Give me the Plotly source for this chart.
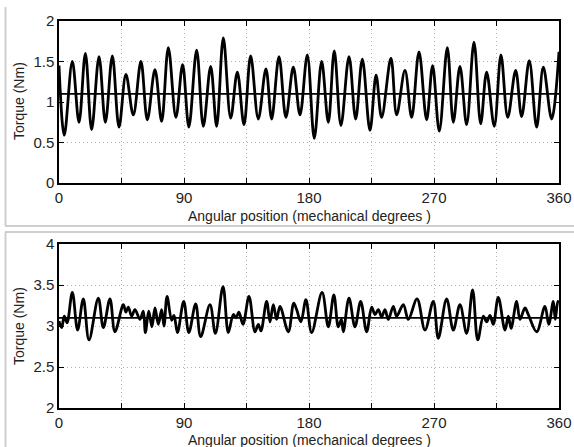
import plotly.graph_objects as go

# ---- Data ----
# Top panel: angular positions (deg) of peaks/troughs and torque values (Nm)
top_angle = [0.0, 3.8, 9.6, 14.4, 19.0, 23.5, 28.8, 33.4, 38.4, 43.2, 48.2, 53.5, 59.0, 63.6,
             69.1, 73.9, 78.7, 84.2, 89.0, 93.5, 99.1, 103.9, 109.2, 113.5, 118.3, 123.6,
             128.4, 133.2, 138.0, 143.5, 149.0, 153.1, 158.4, 163.4, 168.7, 173.5, 178.8,
             183.8, 189.1, 193.9, 198.2, 203.0, 208.8, 213.6, 218.4, 223.9, 228.3, 232.3,
             239.0, 243.1, 249.1, 253.9, 259.2, 264.7, 269.0, 273.8, 279.6, 283.9, 288.7,
             293.5, 298.8, 303.6, 307.9, 313.4, 318.2, 323.1, 328.8, 333.1, 338.6, 343.9,
             348.7, 354.7, 360.0]
top_torque = [1.45, 0.59, 1.50, 0.75, 1.60, 0.66, 1.56, 0.75, 1.57, 0.69, 1.34, 0.84, 1.50, 0.78,
              1.40, 0.76, 1.67, 0.81, 1.46, 0.69, 1.64, 0.70, 1.44, 0.70, 1.79, 0.80,
              1.37, 0.72, 1.57, 0.79, 1.41, 0.79, 1.56, 0.81, 1.43, 0.84, 1.58,
              0.55, 1.50, 0.75, 1.63, 0.71, 1.56, 0.79, 1.53, 0.65, 1.33, 0.81,
              1.54, 0.84, 1.39, 0.81, 1.62, 0.78, 1.45, 0.64, 1.67, 0.75, 1.44,
              0.72, 1.74, 0.73, 1.37, 0.70, 1.58, 0.81, 1.39, 0.82, 1.51, 0.69,
              1.43, 0.79, 1.62]
top_mean = 1.1

# Bottom panel
bot_angle = [0.0, 1.9, 3.8, 5.8, 9.6, 13.4, 17.5, 21.6, 28.3, 31.9, 36.7, 40.3, 46.3, 48.2,
             49.9, 52.3, 54.7, 58.3, 60.7, 62.2, 64.6, 66.9, 69.1, 71.5, 73.9, 75.6, 77.8,
             81.1, 82.8, 85.3, 89.8, 93.5, 98.4, 102.0, 108.7, 112.6, 118.1, 121.9, 125.5,
             127.5, 129.5, 132.5, 136.8, 141.1, 143.5, 145.4, 149.5, 151.9, 154.3, 156.7,
             159.1, 165.1, 169.0, 171.1, 174.2, 177.8, 181.9, 189.4, 193.9, 197.9, 201.1,
             203.3, 204.7, 208.8, 213.1, 217.2, 221.5, 225.1, 227.5, 229.9, 232.3, 234.7,
             237.1, 240.7, 243.1, 247.9, 251.5, 257.8, 263.5, 269.5, 273.1, 279.1, 283.9,
             288.7, 293.5, 297.8, 301.5, 305.5, 307.9, 310.3, 312.7, 316.3, 321.1, 323.5,
             325.5, 329.5, 331.9, 335.5, 337.9, 343.9, 349.9, 352.6, 355.9, 357.3, 359.2, 360.0]
bot_torque = [3.06, 2.98, 3.12, 3.04, 3.41, 2.95, 3.33, 2.83, 3.34, 2.98, 3.33, 2.93, 3.26, 3.17,
              3.23, 3.12, 3.20, 3.08, 3.18, 2.92, 3.18, 2.99, 3.22, 3.02, 3.20, 3.00, 3.36,
              3.07, 3.13, 2.92, 3.30, 2.92, 3.27, 2.87, 3.26, 2.91, 3.48, 2.92, 3.14,
              3.10, 3.17, 3.02, 3.36, 2.93, 3.02, 2.94, 3.30, 3.05, 3.26, 3.08,
              3.24, 2.93, 3.28, 3.20, 3.05, 3.32, 2.92, 3.41, 2.99, 3.38, 2.99,
              3.08, 2.93, 3.34, 2.99, 3.30, 2.93, 3.23, 3.14, 3.20, 3.11, 3.20,
              3.08, 3.24, 3.12, 3.26, 3.08, 3.33, 2.95, 3.30, 2.85, 3.33, 2.95,
              3.26, 2.91, 3.44, 2.83, 3.12, 3.05, 3.13, 3.02, 3.35, 2.95, 3.12,
              2.97, 3.30, 3.08, 3.22, 3.14, 2.93, 3.24, 3.02, 3.30, 3.08, 3.30, 3.28]
bot_mean = 3.1

x_ticks = [0, 45, 90, 135, 180, 225, 270, 315, 360]
x_ticktext = ["0", "", "90", "", "180", "", "270", "", "360"]
top_yticks = [0, 0.5, 1, 1.5, 2]
top_yticktext = ["0", "0.5", "1", "1.5", "2"]
bot_yticks = [2, 2.5, 3, 3.5, 4]
bot_yticktext = ["2", "2.5", "3", "3.5", "4"]
x_title = "Angular position (mechanical degrees )"
y_title = "Torque (Nm)"

W, H = 574, 447
FONT = "Liberation Sans, Arial, Helvetica, sans-serif"

def px_x(p):
    return p / W

def px_y(p):
    return 1 - p / H

fig = go.Figure()
line_style = dict(color="black", width=2.8)
fig.add_trace(go.Scatter(x=top_angle, y=top_torque, mode="lines", line=dict(shape="spline", smoothing=1.0, **line_style),
                         xaxis="x", yaxis="y", showlegend=False))
fig.add_trace(go.Scatter(x=[0, 360], y=[top_mean, top_mean], mode="lines", line=dict(color="black", width=1.8),
                         xaxis="x", yaxis="y", showlegend=False))
fig.add_trace(go.Scatter(x=bot_angle, y=bot_torque, mode="lines", line=dict(shape="spline", smoothing=1.0, **line_style),
                         xaxis="x2", yaxis="y2", showlegend=False))
fig.add_trace(go.Scatter(x=[0, 360], y=[bot_mean, bot_mean], mode="lines", line=dict(color="black", width=1.8),
                         xaxis="x2", yaxis="y2", showlegend=False))

xdom = [px_x(59), px_x(559)]
common_ax = dict(showline=True, linecolor="black", linewidth=1.5, mirror="ticks", ticks="inside",
                 ticklen=5, tickwidth=1.2, tickcolor="black", showgrid=True, gridcolor="#b0b0b0",
                 griddash="1px,3px", gridwidth=1, zeroline=False, automargin=False,
                 tickfont=dict(family=FONT, size=15, color="#222222"))

fig.update_layout(
    width=W, height=H, autosize=False,
    margin=dict(l=0, r=0, t=0, b=0, pad=0),
    paper_bgcolor="white", plot_bgcolor="white",
    xaxis=dict(domain=xdom, range=[0, 360], tickvals=x_ticks, ticktext=x_ticktext, anchor="y", **common_ax),
    yaxis=dict(domain=[px_y(183), px_y(21)], range=[0, 2], tickvals=top_yticks, ticktext=top_yticktext,
               anchor="x", **common_ax),
    xaxis2=dict(domain=xdom, range=[0, 360], tickvals=x_ticks, ticktext=x_ticktext, anchor="y2", **common_ax),
    yaxis2=dict(domain=[px_y(408), px_y(244)], range=[2, 4], tickvals=bot_yticks, ticktext=bot_yticktext,
                anchor="x2", **common_ax),
)

annots = []
for cy in (216, 440):
    annots.append(dict(text=x_title, xref="paper", yref="paper", x=px_x(309), y=px_y(cy),
                       showarrow=False, xanchor="center", yanchor="middle",
                       font=dict(family=FONT, size=14, color="#222222")))
for cy in (101, 326):
    annots.append(dict(text=y_title, xref="paper", yref="paper", x=px_x(19), y=px_y(cy),
                       showarrow=False, xanchor="center", yanchor="middle", textangle=-90,
                       font=dict(family=FONT, size=14, color="#222222")))
fig.update_layout(annotations=annots)

gray = dict(color="#cfcfcf", width=2)
shapes = [
    dict(type="line", xref="paper", yref="paper", x0=px_x(5.5), x1=px_x(5.5), y0=px_y(7), y1=px_y(226), line=gray),
    dict(type="line", xref="paper", yref="paper", x0=px_x(5), x1=1, y0=px_y(226), y1=px_y(226), line=gray),
    dict(type="line", xref="paper", yref="paper", x0=px_x(5), x1=1, y0=px_y(232), y1=px_y(232), line=gray),
    dict(type="line", xref="paper", yref="paper", x0=px_x(5.5), x1=px_x(5.5), y0=px_y(232), y1=0, line=gray),
]
fig.update_layout(shapes=shapes)

fig.write_html("out.html", config={"displayModeBar": False},
               post_script="document.body.style.margin='0';document.body.style.overflow='hidden';")
